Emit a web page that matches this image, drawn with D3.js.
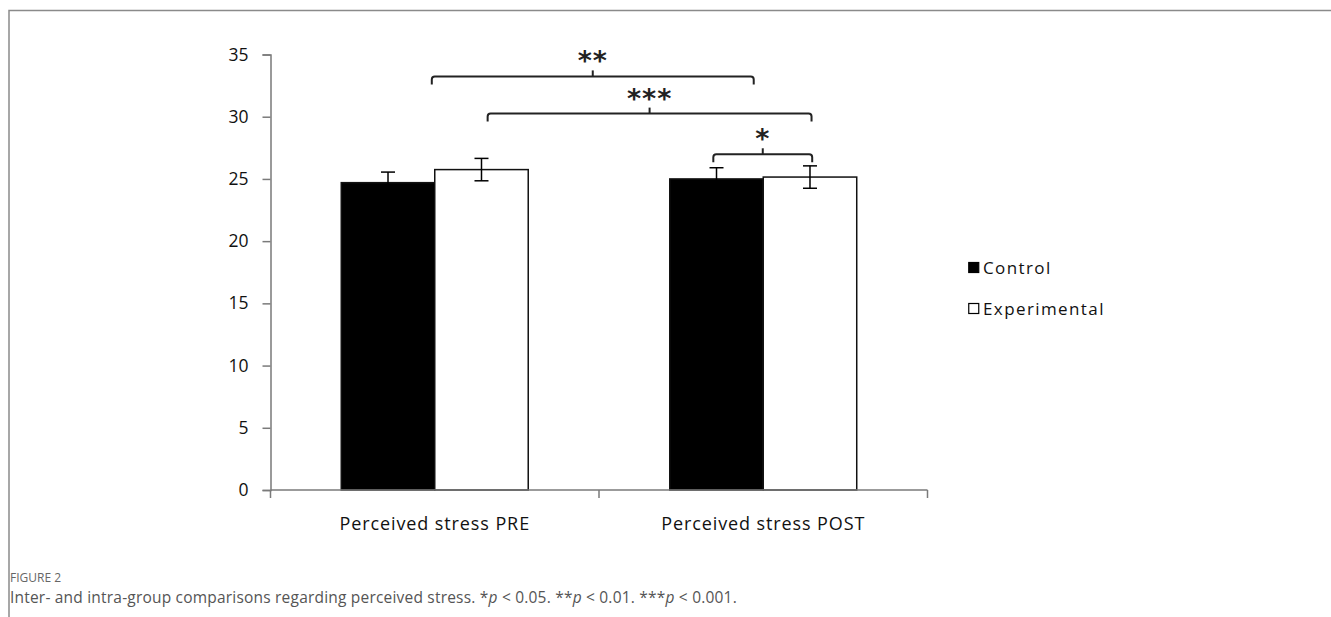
<!DOCTYPE html>
<html>
<head>
<meta charset="utf-8">
<script src="https://cdn.jsdelivr.net/npm/d3@7"></script>
<style>
  html, body { margin: 0; padding: 0; background: #fff; }
  svg { display: block; }
</style>
</head>
<body>
<svg id="chart" width="1331" height="617"></svg>
<script>
// ---- data ----
const categories = ["Perceived stress PRE", "Perceived stress POST"];
const groups = ["Control", "Experimental"];
const controlMeans = [24.7, 25.0];
const experimentalMeans = [25.75, 25.15];
const controlErrors = [0.85, 0.9];
const experimentalErrors = [0.9, 0.9];
const yTicks = [0, 5, 10, 15, 20, 25, 30, 35];
// significance brackets: ends in category units (0..2 along x axis), level in y units
const bracketLabels = ["**", "***", "*"];
const bracketStarts = [0.491, 0.661, 1.348];
const bracketEnds = [1.471, 1.647, 1.649];
const bracketLevels = [33.24, 30.25, 26.98];
const captionTitle = "FIGURE 2";

(function () {
// ---- layout ----
const svg = d3.select("#chart");
const mLeft = 270.5, mRight = 927.5, mTop = 54.5, mBottom = 490;

const y = d3.scaleLinear().domain([0, 35]).range([mBottom, mTop]);
const x0 = d3.scaleBand().domain(categories).range([mLeft, mRight]).padding(0);
const x1 = d3.scaleBand().domain(groups).range([0, x0.bandwidth()]).paddingInner(0).paddingOuter(0.757);
const xc = d3.scaleLinear().domain([0, 2]).range([mLeft, mRight]);
const color = d3.scaleOrdinal().domain(groups).range(["#000000", "#ffffff"]);

const rows = [];
categories.forEach((c, i) => {
  rows.push({cat: c, grp: "Control", v: controlMeans[i], e: controlErrors[i]});
  rows.push({cat: c, grp: "Experimental", v: experimentalMeans[i], e: experimentalErrors[i]});
});

// frame
svg.append("path").attr("d", "M9,617 V10.5 H1331").attr("fill", "none")
  .attr("stroke", "#8a8a8a").attr("stroke-width", 1.5);

const tickFont = "'Open Sans', sans-serif";

// y axis
const yAxis = d3.axisLeft(y).tickValues(yTicks).tickSize(8).tickPadding(14);
const gy = svg.append("g").attr("transform", `translate(${mLeft},0)`).call(yAxis);
gy.select(".domain").attr("stroke", "#7a7a7a").attr("stroke-width", 1.5);
gy.selectAll(".tick line").attr("stroke", "#7a7a7a").attr("stroke-width", 1.5);
gy.selectAll(".tick text").attr("font-family", tickFont).attr("font-size", 17.5).attr("fill", "#111");

// bars
svg.append("g").selectAll("rect").data(rows).join("rect")
  .attr("x", d => x0(d.cat) + x1(d.grp))
  .attr("y", d => y(d.v))
  .attr("width", x1.bandwidth())
  .attr("height", d => y(0) - y(d.v))
  .attr("fill", d => color(d.grp))
  .attr("stroke", "#111")
  .attr("stroke-width", 1.5);

// x axis
const gx = svg.append("g");
gx.append("line").attr("x1", mLeft).attr("x2", mRight).attr("y1", y(0)).attr("y2", y(0))
  .attr("stroke", "#7a7a7a").attr("stroke-width", 1.5);
const edges = categories.map(c => x0(c)).concat([x0(categories[categories.length - 1]) + x0.bandwidth()]);
gx.selectAll("line.tk").data(edges).join("line").attr("class", "tk")
  .attr("x1", d => d).attr("x2", d => d).attr("y1", y(0)).attr("y2", y(0) + 8)
  .attr("stroke", "#7a7a7a").attr("stroke-width", 1.5);
gx.selectAll("text").data(categories).join("text")
  .attr("x", d => x0(d) + x0.bandwidth() / 2)
  .attr("y", y(0) + 40)
  .attr("text-anchor", "middle")
  .attr("font-family", tickFont).attr("font-size", 18).attr("fill", "#111")
  .attr("letter-spacing", 0.9)
  .text(d => d);

// error bars
const cap = 7;
const eb = svg.append("g").attr("stroke", "#000").attr("stroke-width", 1.5);
rows.forEach(d => {
  const cx = x0(d.cat) + x1(d.grp) + x1.bandwidth() / 2;
  const yt = y(d.v + d.e), yb = y(d.v - d.e);
  eb.append("line").attr("x1", cx).attr("x2", cx).attr("y1", yt).attr("y2", yb);
  eb.append("line").attr("x1", cx - cap).attr("x2", cx + cap).attr("y1", yt).attr("y2", yt);
  eb.append("line").attr("x1", cx - cap).attr("x2", cx + cap).attr("y1", yb).attr("y2", yb);
});

// brackets
const br = svg.append("g");
bracketLabels.forEach((lab, i) => {
  const xa = xc(bracketStarts[i]), xb = xc(bracketEnds[i]), yl = y(bracketLevels[i]);
  const r = 3, hook = 8;
  const mid = (xa + xb) / 2;
  br.append("path")
    .attr("d", `M${xa},${yl + hook} V${yl + r} Q${xa},${yl} ${xa + r},${yl} H${xb - r} Q${xb},${yl} ${xb},${yl + r} V${yl + hook}`)
    .attr("fill", "none").attr("stroke", "#222").attr("stroke-width", 2);
  br.append("line").attr("x1", mid).attr("x2", mid).attr("y1", yl).attr("y2", yl - 6)
    .attr("stroke", "#222").attr("stroke-width", 2);
  br.append("text").attr("x", mid).attr("y", yl - 21 + 15)
    .attr("text-anchor", "middle")
    .attr("font-family", "'DejaVu Sans', sans-serif").attr("font-size", 27)
    .attr("font-weight", "bold")
    .attr("letter-spacing", 1)
    .attr("fill", "#222")
    .text(lab);
});

// legend
const lg = svg.append("g").attr("transform", "translate(968,0)");
const legendY = [268, 309];
groups.forEach((g, i) => {
  lg.append("rect").attr("x", 0.75).attr("y", legendY[i] - 5.5).attr("width", 10).attr("height", 10)
    .attr("fill", color(g)).attr("stroke", "#000").attr("stroke-width", 1.2);
  lg.append("text").attr("x", 15).attr("y", legendY[i] + 6)
    .attr("font-family", tickFont).attr("font-size", 17).attr("fill", "#111")
    .attr("letter-spacing", 1.4)
    .text(g);
});

// caption
svg.append("text").attr("x", 10).attr("y", 582)
  .attr("font-family", "'Open Sans', sans-serif").attr("font-size", 12).attr("fill", "#666")
  .text(captionTitle);
const cap2 = svg.append("text").attr("x", 10).attr("y", 603)
  .attr("font-family", "'Open Sans', sans-serif").attr("font-size", 15.5).attr("fill", "#555")
  .attr("letter-spacing", 0.2);
const parts = [
  ["Inter- and intra-group comparisons regarding perceived stress. *", false],
  ["p", true], [" < 0.05. **", false], ["p", true], [" < 0.01. ***", false], ["p", true], [" < 0.001.", false]
];
parts.forEach(([t, it]) => cap2.append("tspan").attr("font-style", it ? "italic" : "normal").text(t));
})();
</script>
</body>
</html>
